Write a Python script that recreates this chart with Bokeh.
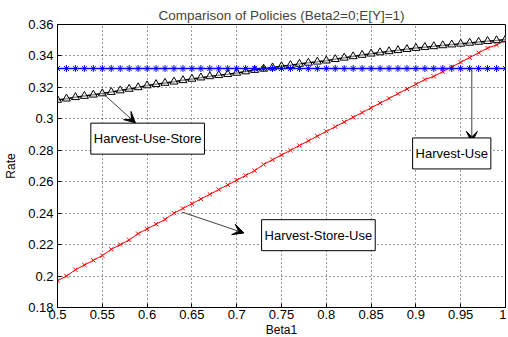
from bokeh.plotting import figure
from bokeh.models import (FixedTicker, CustomJSTickFormatter, Arrow, VeeHead, Label,
                          ColumnDataSource)
from bokeh.embed import file_html
from bokeh.resources import INLINE

# ---------------- data ----------------
beta1 = [0.50, 0.51, 0.52, 0.53, 0.54, 0.55, 0.56, 0.57, 0.58, 0.59,
         0.60, 0.61, 0.62, 0.63, 0.64, 0.65, 0.66, 0.67, 0.68, 0.69,
         0.70, 0.71, 0.72, 0.73, 0.74, 0.75, 0.76, 0.77, 0.78, 0.79,
         0.80, 0.81, 0.82, 0.83, 0.84, 0.85, 0.86, 0.87, 0.88, 0.89,
         0.90, 0.91, 0.92, 0.93, 0.94, 0.95, 0.96, 0.97, 0.98, 0.99, 1.00]

harvest_use = [0.332, 0.332, 0.332, 0.332, 0.332, 0.332, 0.332, 0.332, 0.332, 0.332,
               0.332, 0.332, 0.332, 0.332, 0.332, 0.332, 0.332, 0.332, 0.332, 0.332,
               0.332, 0.332, 0.332, 0.332, 0.332, 0.332, 0.332, 0.332, 0.332, 0.332,
               0.332, 0.332, 0.332, 0.332, 0.332, 0.332, 0.332, 0.332, 0.332, 0.332,
               0.332, 0.332, 0.332, 0.332, 0.332, 0.332, 0.332, 0.332, 0.332, 0.332, 0.332]

harvest_use_store = [0.3120, 0.3128, 0.3137, 0.3145, 0.3153, 0.3161, 0.3170, 0.3180, 0.3190, 0.3200,
                     0.3212, 0.3220, 0.3228, 0.3236, 0.3245, 0.3254, 0.3262, 0.3270, 0.3277, 0.3284,
                     0.3292, 0.3301, 0.3310, 0.3318, 0.3326, 0.3334, 0.3341, 0.3349, 0.3356, 0.3363,
                     0.3370, 0.3379, 0.3388, 0.3397, 0.3406, 0.3414, 0.3422, 0.3429, 0.3436, 0.3443,
                     0.3450, 0.3456, 0.3461, 0.3467, 0.3472, 0.3477, 0.3483, 0.3489, 0.3494, 0.3499, 0.3505]

harvest_store_use = [0.197, 0.200, 0.204, 0.207, 0.210, 0.213, 0.217, 0.220, 0.223, 0.227,
                     0.230, 0.233, 0.236, 0.240, 0.243, 0.246, 0.249, 0.252, 0.255, 0.258,
                     0.261, 0.264, 0.267, 0.271, 0.274, 0.277, 0.280, 0.283, 0.286, 0.289,
                     0.292, 0.295, 0.298, 0.301, 0.304, 0.307, 0.310, 0.313, 0.316, 0.319,
                     0.322, 0.325, 0.327, 0.330, 0.333, 0.336, 0.339, 0.342, 0.345, 0.347, 0.350]

x_ticks = [0.5, 0.55, 0.6, 0.65, 0.7, 0.75, 0.8, 0.85, 0.9, 0.95, 1.0]
y_ticks = [0.18, 0.2, 0.22, 0.24, 0.26, 0.28, 0.3, 0.32, 0.34, 0.36]

# annotations: text box centre and arrow tail/head, in data coordinates
annot_text = ["Harvest-Use-Store", "Harvest-Store-Use", "Harvest-Use"]
annot_tx = [0.6006, 0.7912, 0.940]
annot_ty = [0.2874, 0.2260, 0.2780]
arrow_x0 = [0.550, 0.639, 0.9624]
arrow_y0 = [0.3165, 0.2407, 0.3318]
arrow_x1 = [0.587, 0.708, 0.9624]
arrow_y1 = [0.2974, 0.2274, 0.2850]

FONT = "Liberation Sans"

# ---------------- figure ----------------
p = figure(frame_width=448, frame_height=283,
           x_range=(0.5, 1.0), y_range=(0.18, 0.36),
           output_backend="svg", toolbar_location=None,
           min_border_left=57, min_border_right=1,
           min_border_top=24, min_border_bottom=29,
           background_fill_color="white", border_fill_color="white")

p.title.text = "Comparison of Policies (Beta2=0;E[Y]=1)"
p.title.align = "center"
p.title.text_font = FONT
p.title.text_font_size = "13.5px"
p.title.text_font_style = "normal"
p.title.standoff = 3

p.outline_line_color = "black"
p.outline_line_width = 1
p.outline_line_alpha = 1

fmt = CustomJSTickFormatter(code="return String(parseFloat(tick.toFixed(2)));")
for ax, ticks in ((p.xaxis[0], x_ticks), (p.yaxis[0], y_ticks)):
    ax.ticker = FixedTicker(ticks=ticks)
    ax.formatter = fmt
    ax.major_tick_in = 4
    ax.major_tick_out = 0
    ax.minor_tick_line_color = None
    ax.axis_line_color = "black"
    ax.major_tick_line_color = "black"
    ax.major_label_text_font = FONT
    ax.major_label_text_font_size = "13px"
    ax.major_label_text_color = "black"
    ax.axis_label_text_font = FONT
    ax.axis_label_text_font_size = "12px"
    ax.axis_label_text_font_style = "normal"
    ax.axis_label_text_color = "black"

p.xaxis.axis_label = "Beta1"
p.yaxis.axis_label = "Rate"
p.xaxis.major_label_standoff = 2
p.xaxis.axis_label_standoff = 1
p.yaxis.major_label_standoff = 4
p.yaxis.axis_label_standoff = 7

p.xgrid.ticker = FixedTicker(ticks=x_ticks)
p.ygrid.ticker = FixedTicker(ticks=y_ticks)
for g in (p.xgrid[0], p.ygrid[0]):
    g.grid_line_color = "black"
    g.grid_line_dash = "1 3"
    g.grid_line_width = 1
    g.grid_line_alpha = 0.8

src = ColumnDataSource(dict(x=beta1, hu=harvest_use, hus=harvest_use_store, hsu=harvest_store_use))

# Harvest-Store-Use (red, x markers)
p.line("x", "hsu", source=src, line_color="#ff0000", line_width=1)
p.scatter("x", "hsu", source=src, marker="x", size=6, line_color="#ff0000", line_width=1)

# Harvest-Use-Store (black, triangles)
p.line("x", "hus", source=src, line_color="black", line_width=1.5)
p.scatter("x", "hus", source=src, marker="triangle", size=8, line_color="black",
          fill_color="white", fill_alpha=0.55, line_width=1)

# Harvest-Use (blue, asterisks)
p.line("x", "hu", source=src, line_color="#0000ff", line_width=1.5)
p.scatter("x", "hu", source=src, marker="asterisk", size=7, line_color="#0000ff", line_width=1)

for i in range(len(annot_text)):
    p.add_layout(Arrow(x_start=arrow_x0[i], y_start=arrow_y0[i],
                       x_end=arrow_x1[i], y_end=arrow_y1[i],
                       line_color="#404040", line_width=1,
                       end=VeeHead(size=11, fill_color="black", line_color="black")))
    p.add_layout(Label(x=annot_tx[i], y=annot_ty[i], text=annot_text[i],
                       text_align="center", text_baseline="middle",
                       text_font=FONT, text_font_size="13px", text_color="black",
                       border_line_color="black", border_line_width=1,
                       background_fill_color="white", padding=(3, 8)))

open("out.html", "w").write(file_html(p, INLINE))
